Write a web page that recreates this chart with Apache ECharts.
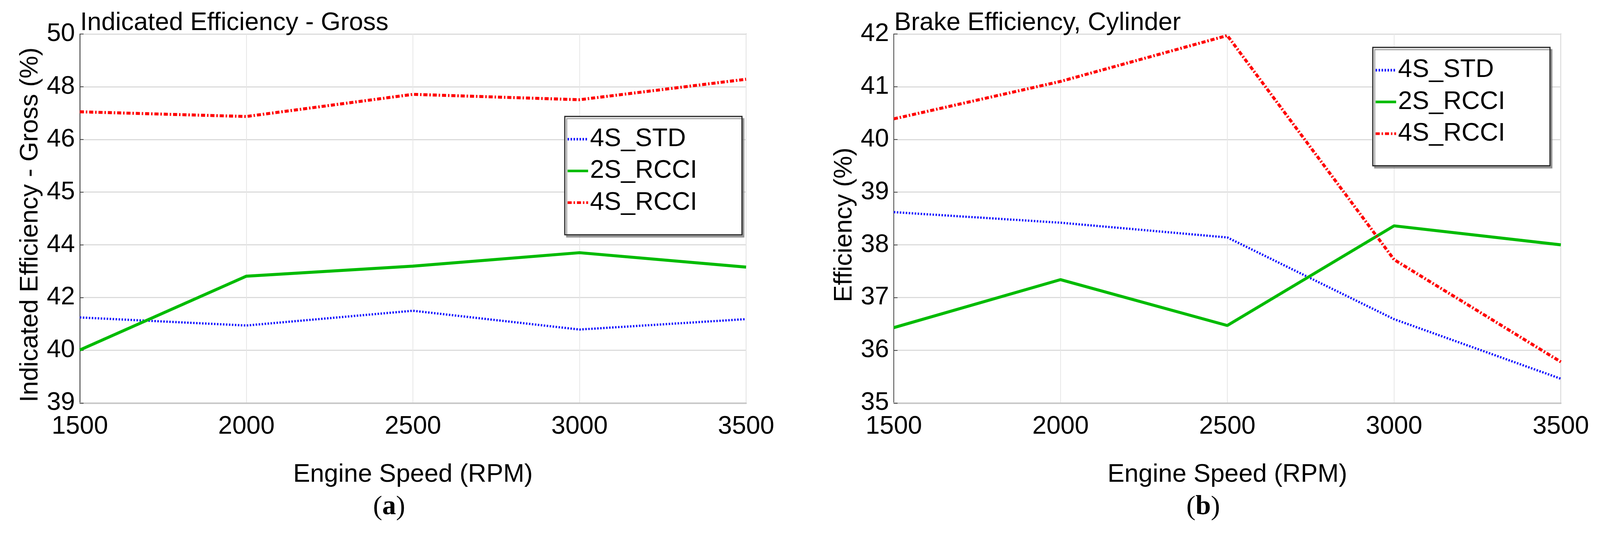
<!DOCTYPE html>
<html>
<head>
<meta charset="utf-8">
<script src="https://cdn.jsdelivr.net/npm/echarts@6/dist/echarts.min.js"></script>
<style>
html,body{margin:0;padding:0;background:#fff;overflow:hidden;}
#c{position:absolute;left:0;top:0;}
</style>
</head>
<body>
<div id="c"></div>
<script>
// ---- data ----
var rpm = [1500, 2000, 2500, 3000, 3500];
var seriesNames = ['4S_STD', '2S_RCCI', '4S_RCCI'];
// (a) Indicated Efficiency - Gross (%)
var ind4S_STD  = [41.55, 41.31, 41.75, 41.19, 41.50];
var ind2S_RCCI = [40.58, 42.78, 43.08, 43.48, 43.05];
var ind4S_RCCI = [47.68, 47.54, 48.20, 48.04, 48.65];
// (b) Brake Efficiency, Cylinder (%)
var brk4S_STD  = [38.62, 38.42, 38.14, 36.59, 35.46];
var brk2S_RCCI = [36.43, 37.34, 36.47, 38.36, 38.00];
var brk4S_RCCI = [40.39, 41.10, 41.97, 37.72, 35.78];
// tick labels of the left value axis as printed (8 evenly spaced ticks over 39..50)
var leftTickLabels = ['39', '40', '42', '44', '45', '46', '48', '50'];
var xTicks = ['1500', '2000', '2500', '3000', '3500'];

var W0 = 4289, H0 = 1423;
var vw = window.innerWidth || W0, vh = window.innerHeight || H0;
var s = Math.min(vw / W0, vh / H0);
function P(v){ return v * s; }
var el = document.getElementById('c');
el.style.width = (W0 * s) + 'px';
el.style.height = (H0 * s) + 'px';

var FONT = 'Liberation Sans, Arial, sans-serif';
var FS = P(68);

function pairs(v){ return rpm.map(function(x,i){ return [x, v[i]]; }); }

var styles = [
  {color:'#1010ff', width:P(6), type:[P(4),P(4)]},
  {color:'#00bb00', width:P(8), type:'solid'},
  {color:'#ff0000', width:P(8), type:[P(11),P(5),P(4),P(5)]}
];

function mkSeries(idx, vals, name){
  var st = styles[name];
  return {
    type:'line', name: seriesNames[name], xAxisIndex: idx, yAxisIndex: idx,
    data: pairs(vals), symbol:'none', showSymbol:false, animation:false,
    lineStyle:{color:st.color, width:st.width, type:st.type},
    itemStyle:{color:st.color}
  };
}

var grids = [
  {left:P(214), right:P(W0-2000), top:P(91), bottom:P(H0-1080), show:true, borderColor:'#777', borderWidth:P(2), backgroundColor:'#fff'},
  {left:P(2396), right:P(W0-4184), top:P(91), bottom:P(H0-1080), show:true, borderColor:'#777', borderWidth:P(2), backgroundColor:'#fff'}
];

function mkX(idx){
  return {
    type:'value', gridIndex: idx, min:1500, max:3500, interval:500,
    name:'Engine Speed (RPM)', nameLocation:'middle', nameGap:P(158),
    nameTextStyle:{fontFamily:FONT, fontSize:FS, color:'#000'},
    axisLine:{show:true, lineStyle:{color:'#c8c8c8', width:P(4)}},
    axisTick:{show:false},
    axisLabel:{fontFamily:FONT, fontSize:FS, color:'#000', margin:P(30),
      formatter:function(v){ var i=Math.round((v-1500)/500); return xTicks[i]; }},
    splitLine:{show:true, lineStyle:{color:'#e6e6e6', width:P(2)}}
  };
}

var leftStep = 11/7;
var yAxes = [
  {
    type:'value', gridIndex:0, min:39, max:50, interval:leftStep,
    name:'Indicated Efficiency - Gross (%)', nameLocation:'middle', nameGap:P(98),
    nameTextStyle:{fontFamily:FONT, fontSize:FS, color:'#000', padding:[0,P(34),0,0]},
    axisLine:{show:true, lineStyle:{color:'#444', width:P(2)}},
    axisTick:{show:true, inside:true, length:P(10), lineStyle:{color:'#444', width:P(2)}},
    axisLabel:{fontFamily:FONT, fontSize:FS, color:'#000', margin:P(13), padding:[P(14),0,0,0],
      formatter:function(v){ var k=Math.round((v-39)/leftStep); return leftTickLabels[k]; }},
    splitLine:{show:true, lineStyle:{color:'#dcdcdc', width:P(3)}}
  },
  {
    type:'value', gridIndex:1, min:35, max:42, interval:1,
    name:'Efficiency (%)', nameLocation:'middle', nameGap:P(98),
    nameTextStyle:{fontFamily:FONT, fontSize:FS, color:'#000', padding:[0,P(34),0,0]},
    axisLine:{show:true, lineStyle:{color:'#444', width:P(2)}},
    axisTick:{show:true, inside:true, length:P(10), lineStyle:{color:'#444', width:P(2)}},
    axisLabel:{fontFamily:FONT, fontSize:FS, color:'#000', margin:P(13), padding:[P(14),0,0,0]},
    splitLine:{show:true, lineStyle:{color:'#dcdcdc', width:P(3)}}
  }
];

function mkLegend(left, top){
  return {
    show:true, orient:'vertical', left:P(left), top:P(top),
    data: seriesNames.slice(),
    itemWidth:P(55), itemHeight:P(22), itemGap:P(17),
    padding:[P(27),P(120),P(52),P(4)],
    backgroundColor:'#fff', borderColor:'#222', borderWidth:P(3),
    shadowColor:'rgba(120,120,120,0.7)', shadowOffsetX:P(5), shadowOffsetY:P(6), shadowBlur:1,
    itemStyle:{opacity:0},
    lineStyle:{width:P(7)},
    textStyle:{fontFamily:FONT, fontSize:FS, color:'#000', lineHeight:P(68)},
    selectedMode:false
  };
}

var chart = echarts.init(el, null, {renderer:'canvas'});
chart.setOption({
  backgroundColor:'#fff',
  animation:false,
  title:[
    {text:'Indicated Efficiency - Gross', left:P(215), top:P(28), textStyle:{fontFamily:FONT, fontSize:FS, fontWeight:'normal', color:'#000'}, padding:0},
    {text:'Brake Efficiency, Cylinder', left:P(2397), top:P(28), textStyle:{fontFamily:FONT, fontSize:FS, fontWeight:'normal', color:'#000'}, padding:0}
  ],
  grid: grids,
  xAxis:[mkX(0), mkX(1)],
  yAxis: yAxes,
  legend:[mkLegend(1514, 312), mkLegend(3680, 127)],
  series:[
    mkSeries(0, ind4S_STD, 0), mkSeries(0, ind2S_RCCI, 1), mkSeries(0, ind4S_RCCI, 2),
    mkSeries(1, brk4S_STD, 0), mkSeries(1, brk2S_RCCI, 1), mkSeries(1, brk4S_RCCI, 2)
  ],
  graphic:[
    {type:'text', left:P(1000), top:P(1322), style:{text:'({b|a})', font:P(74)+'px Liberation Serif, serif', fill:'#000',
      rich:{b:{fontFamily:'Liberation Serif, serif', fontSize:P(74), fontWeight:'bold', fill:'#000'}}}},
    {type:'text', left:P(3180), top:P(1322), style:{text:'({b|b})', font:P(74)+'px Liberation Serif, serif', fill:'#000',
      rich:{b:{fontFamily:'Liberation Serif, serif', fontSize:P(74), fontWeight:'bold', fill:'#000'}}}}
  ]
});
</script>
</body>
</html>
